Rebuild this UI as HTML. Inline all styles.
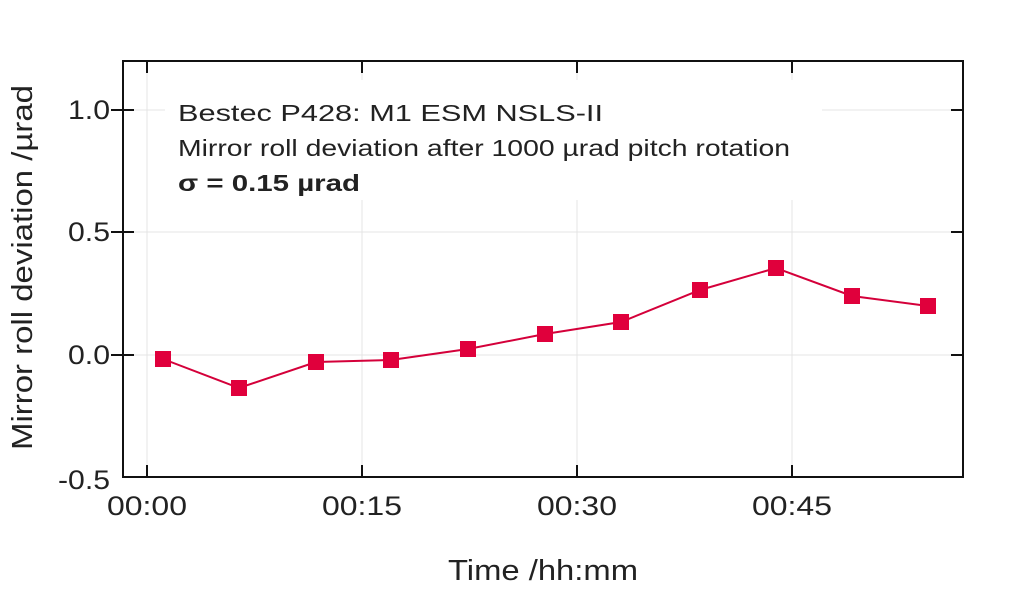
<!DOCTYPE html>
<html><head><meta charset="utf-8"><style>
html,body{margin:0;padding:0;background:#fff;width:1024px;height:589px;overflow:hidden}
text{font-family:"Liberation Sans",sans-serif;fill:#222}
</style></head><body>
<svg width="1024" height="589" viewBox="0 0 1024 589" xmlns="http://www.w3.org/2000/svg">
<g stroke="#e4e4e4" stroke-width="1">
<line x1="123" y1="110" x2="962" y2="110"/>
<line x1="123" y1="232" x2="962" y2="232"/>
<line x1="123" y1="355" x2="962" y2="355"/>
<line x1="147" y1="61" x2="147" y2="477"/>
<line x1="362" y1="61" x2="362" y2="477"/>
<line x1="577" y1="61" x2="577" y2="477"/>
<line x1="792" y1="61" x2="792" y2="477"/>
</g>
<rect x="165" y="80" width="657" height="120" fill="#fff"/>
<rect x="123" y="61" width="840" height="416" fill="none" stroke="#111" stroke-width="2"/>
<g stroke="#111" stroke-width="2">
<line x1="111" y1="110" x2="134" y2="110"/><line x1="111" y1="232" x2="134" y2="232"/><line x1="111" y1="355" x2="134" y2="355"/>
<line x1="951" y1="110" x2="963" y2="110"/><line x1="951" y1="232" x2="963" y2="232"/><line x1="951" y1="355" x2="963" y2="355"/>
<line x1="147" y1="465" x2="147" y2="477"/><line x1="362" y1="465" x2="362" y2="477"/><line x1="577" y1="465" x2="577" y2="477"/><line x1="792" y1="465" x2="792" y2="477"/>
<line x1="147" y1="61" x2="147" y2="73"/><line x1="362" y1="61" x2="362" y2="73"/><line x1="577" y1="61" x2="577" y2="73"/><line x1="792" y1="61" x2="792" y2="73"/>
</g>
<g font-size="27" text-anchor="end">
<text x="110" y="119" textLength="42" lengthAdjust="spacingAndGlyphs">1.0</text><text x="110" y="241" textLength="42" lengthAdjust="spacingAndGlyphs">0.5</text><text x="110" y="364" textLength="42" lengthAdjust="spacingAndGlyphs">0.0</text><text x="110" y="489" textLength="52" lengthAdjust="spacingAndGlyphs">-0.5</text>
</g>
<g font-size="27">
<text x="107" y="515" textLength="80" lengthAdjust="spacingAndGlyphs">00:00</text>
<text x="322" y="515" textLength="80" lengthAdjust="spacingAndGlyphs">00:15</text>
<text x="537" y="515" textLength="80" lengthAdjust="spacingAndGlyphs">00:30</text>
<text x="752" y="515" textLength="80" lengthAdjust="spacingAndGlyphs">00:45</text>
<text x="448" y="580" font-size="29" textLength="190" lengthAdjust="spacingAndGlyphs">Time /hh:mm</text>
<text transform="translate(32,450) rotate(-90)" font-size="29" textLength="365" lengthAdjust="spacingAndGlyphs">Mirror roll deviation /µrad</text>
</g>
<text x="178" y="121" font-size="23" textLength="425" lengthAdjust="spacingAndGlyphs">Bestec P428: M1 ESM NSLS-II</text>
<text x="178" y="156" font-size="23" textLength="612" lengthAdjust="spacingAndGlyphs">Mirror roll deviation after 1000 µrad pitch rotation</text>
<text x="178" y="191" font-size="23" font-weight="bold" textLength="182" lengthAdjust="spacingAndGlyphs">σ = 0.15 µrad</text>
<polyline fill="none" stroke="#d4003a" stroke-width="2" points="163,359 239,388 316,362 391,360 468,349 545,334 621,322 700,290 776,268 852,296 928,306"/>
<g fill="#e0003c">
<rect x="155" y="351" width="16" height="16"/><rect x="231" y="380" width="16" height="16"/><rect x="308" y="354" width="16" height="16"/><rect x="383" y="352" width="16" height="16"/><rect x="460" y="341" width="16" height="16"/><rect x="537" y="326" width="16" height="16"/><rect x="613" y="314" width="16" height="16"/><rect x="692" y="282" width="16" height="16"/><rect x="768" y="260" width="16" height="16"/><rect x="844" y="288" width="16" height="16"/><rect x="920" y="298" width="16" height="16"/>
</g>
</svg>
</body></html>
